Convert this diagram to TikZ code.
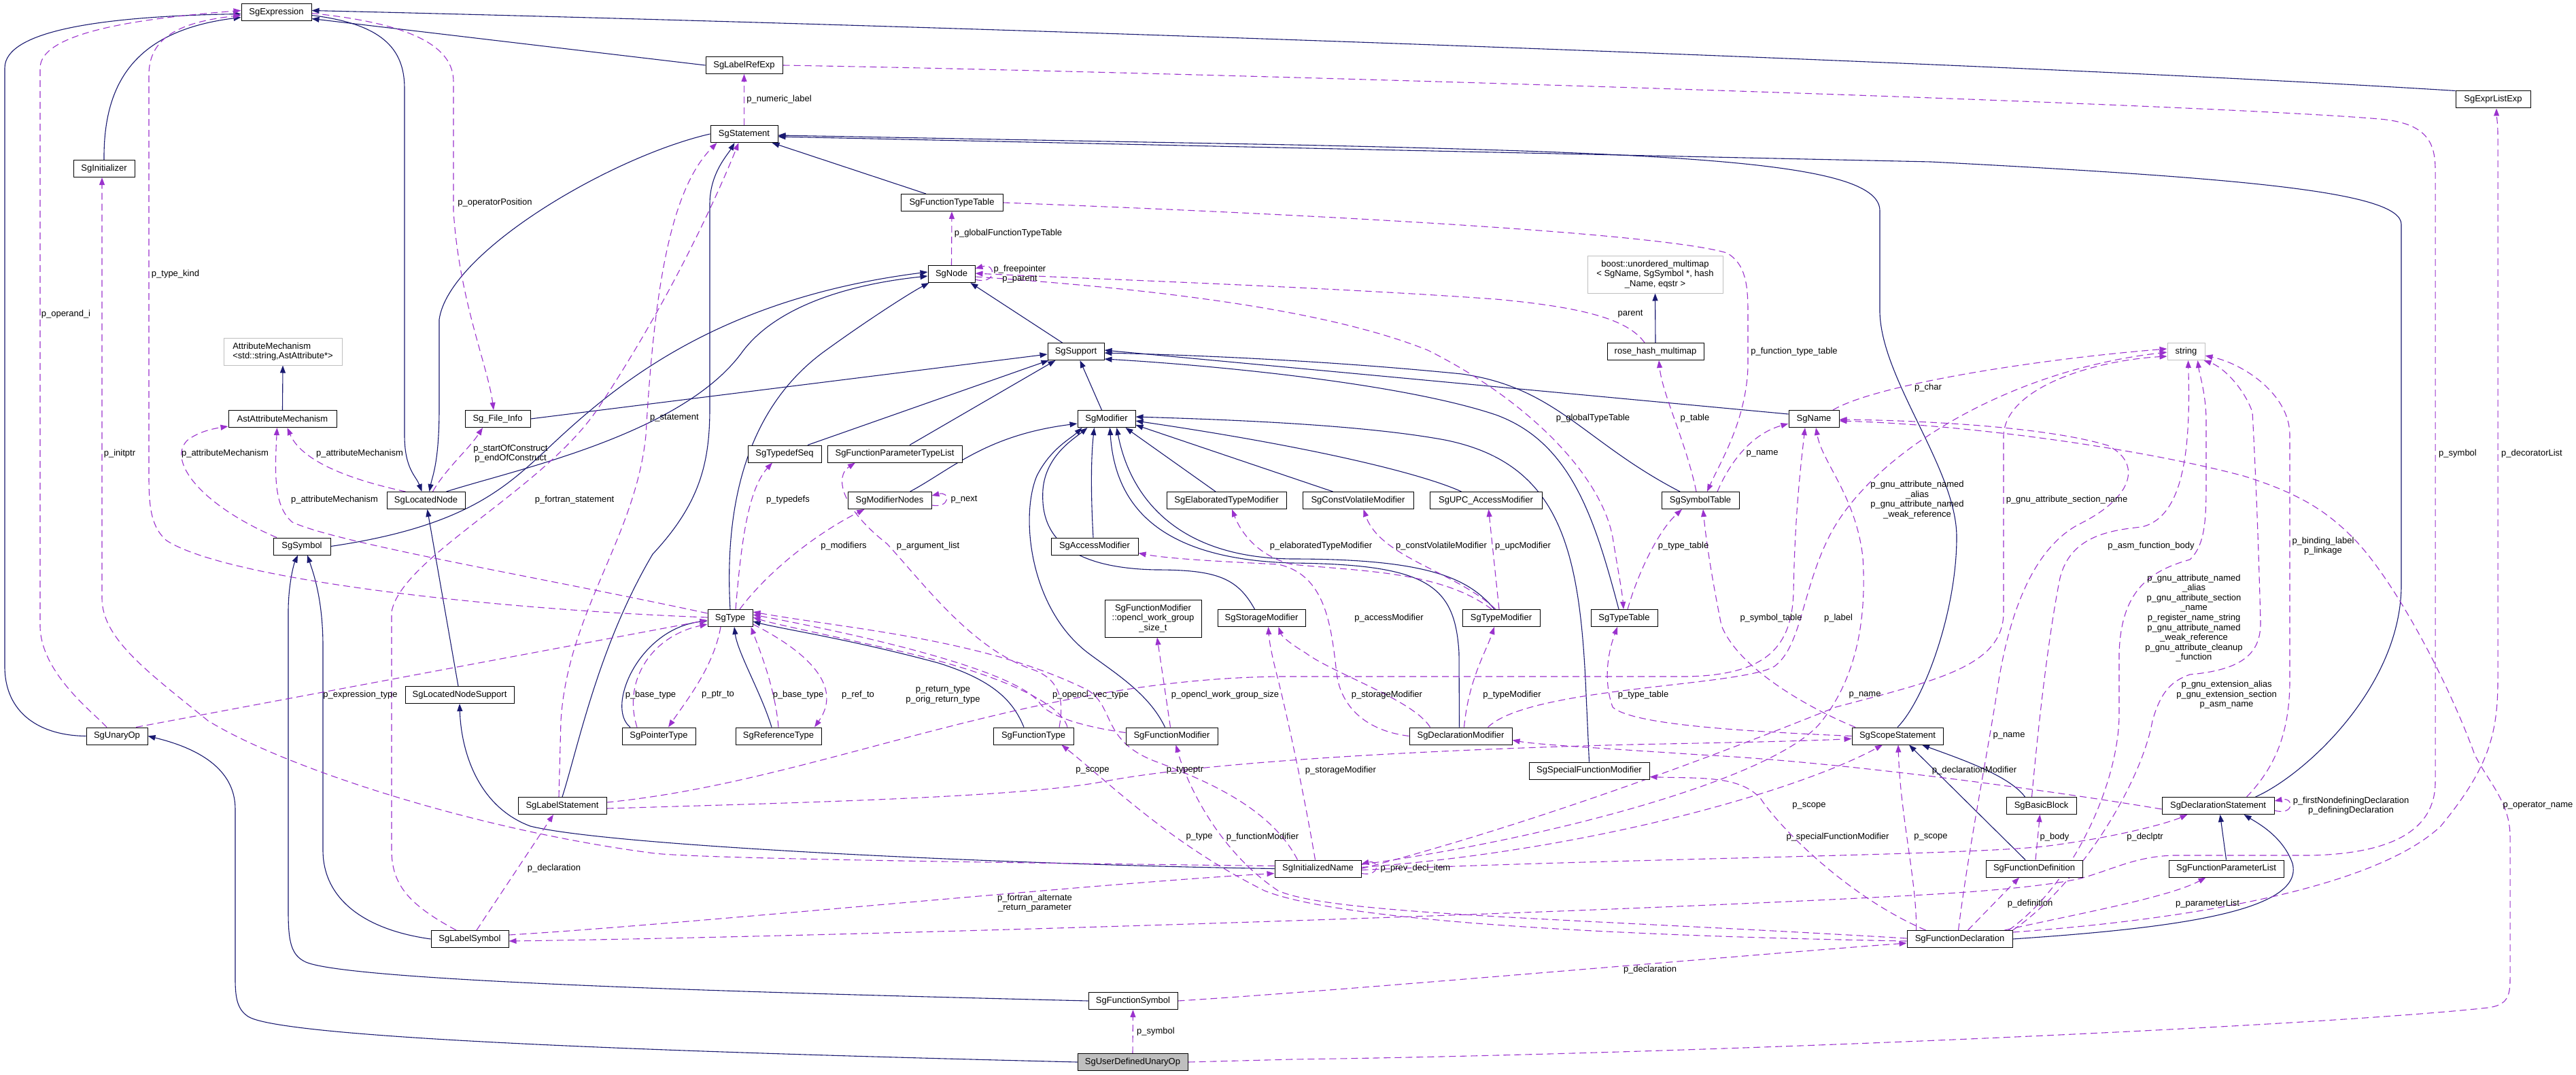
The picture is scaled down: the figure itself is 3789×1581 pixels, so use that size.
\documentclass[tikz,border=0pt]{standalone}
\usepackage{fontspec}
\setmainfont{Liberation Sans}
\usetikzlibrary{arrows.meta}
\definecolor{navy}{HTML}{191970}
\definecolor{orchid}{HTML}{9A32CD}
\definecolor{boxgray}{HTML}{BFBFBF}
\pgfdeclarelayer{bg}
\pgfsetlayers{bg,main}
\tikzset{
  cls/.style={draw=black, fill=white, line width=1pt, minimum height=25pt, inner xsep=2pt, inner ysep=2pt, align=center},
  ext/.style={cls, draw=boxgray},
  lbl/.style={inner sep=0pt, align=center},
  inh/.style={draw=navy, line width=1.1pt, -{Triangle[length=11pt,width=8pt]}},
  dep/.style={draw=orchid, line width=1.1pt, dash pattern=on 10pt off 6pt, -{Triangle[length=11pt,width=8pt]}},
}
\begin{document}
\begin{tikzpicture}[x=1pt, y=-1pt, every node/.style={font=\fontsize{13}{14.6}\selectfont}]
  \useasboundingbox (0,0) rectangle (3789,1581);

  % Classes
  \node[cls, minimum width=103pt] (expr) at (406.5,18.5) {SgExpression};
  \node[cls, minimum width=90pt] (init) at (153,248) {SgInitializer};
  \node[ext, minimum width=174pt, minimum height=40pt, align=left] (am) at (416,517) {AttributeMechanism\\<std::string,AstAttribute*>};
  \node[cls, minimum width=159pt] (aam) at (415.5,616) {AstAttributeMechanism};
  \node[cls, minimum width=96pt] (finfo) at (732,616) {Sg\_File\_Info};
  \node[cls, minimum width=115pt] (lnode) at (626.5,736) {SgLocatedNode};
  \node[cls, minimum width=84pt] (sym) at (444,803.5) {SgSymbol};
  \node[cls, minimum width=160pt] (lns) at (676,1022) {SgLocatedNodeSupport};
  \node[cls, minimum width=90pt] (unop) at (172,1082.5) {SgUnaryOp};
  \node[cls, minimum width=130pt] (lblst) at (827,1185) {SgLabelStatement};
  \node[cls, minimum width=114pt] (lblsym) at (691,1381) {SgLabelSymbol};
  \node[cls, minimum width=108pt] (ptrty) at (969,1082.5) {SgPointerType};
  \node[cls, minimum width=126pt] (refty) at (1145,1082.5) {SgReferenceType};
  \node[cls, minimum width=118pt] (fnty) at (1520,1082.5) {SgFunctionType};
  \node[cls, minimum width=135pt] (fnmod) at (1723.5,1082.5) {SgFunctionModifier};
  \node[cls, minimum width=127pt] (iname) at (1938.5,1277.5) {SgInitializedName};
  \node[cls, minimum width=131pt] (fsym) at (1666.5,1472) {SgFunctionSymbol};
  \node[cls, fill=boxgray, minimum width=162pt] (udop) at (1666,1562) {SgUserDefinedUnaryOp};
  \node[cls, minimum width=113pt] (lrexp) at (1094.5,96) {SgLabelRefExp};
  \node[cls, minimum width=99pt] (stmt) at (1094.5,197) {SgStatement};
  \node[cls, minimum width=150pt] (ftt) at (1400,298) {SgFunctionTypeTable};
  \node[cls, minimum width=69pt] (sgnode) at (1399.5,403) {SgNode};
  \node[cls, minimum width=83pt] (supp) at (1582.5,517) {SgSupport};
  \node[ext, minimum width=199pt, minimum height=55pt] (boostmm) at (2434.5,403.5) {boost::unordered\_multimap\\< SgName, SgSymbol *, hash\\\_Name, eqstr >};
  \node[cls, minimum width=142pt] (rhm) at (2435,517) {rose\_hash\_multimap};
  \node[cls, minimum width=110pt] (exlist) at (3667,146.5) {SgExprListExp};
  \node[ext, minimum width=55pt] (strg) at (3215.5,517) {string};
  \node[cls, minimum width=108pt] (tdseq) at (1154,667.5) {SgTypedefSeq};
  \node[cls, minimum width=198pt] (fptl) at (1316,667.5) {SgFunctionParameterTypeList};
  \node[cls, minimum width=85pt] (modif) at (1627.5,616) {SgModifier};
  \node[cls, minimum width=123pt] (modn) at (1308.5,736) {SgModifierNodes};
  \node[cls, minimum width=176pt] (elab) at (1804,736) {SgElaboratedTypeModifier};
  \node[cls, minimum width=128pt] (accm) at (1610,803.5) {SgAccessModifier};
  \node[cls, minimum width=66pt] (sgtype) at (1074,909) {SgType};
  \node[cls, minimum width=142pt, minimum height=55pt] (ocl) at (1696,909.5) {SgFunctionModifier\\::opencl\_work\_group\\\_size\_t};
  \node[cls, minimum width=129pt] (storm) at (1855.5,909) {SgStorageModifier};
  \node[cls, minimum width=163pt] (cvm) at (1997.5,736) {SgConstVolatileModifier};
  \node[cls, minimum width=165pt] (upcm) at (2185.5,736) {SgUPC\_AccessModifier};
  \node[cls, minimum width=114pt] (symtab) at (2501,736) {SgSymbolTable};
  \node[cls, minimum width=74pt] (sgname) at (2668,616) {SgName};
  \node[cls, minimum width=114pt] (typem) at (2208,909) {SgTypeModifier};
  \node[cls, minimum width=98pt] (typetab) at (2389,909) {SgTypeTable};
  \node[cls, minimum width=151pt] (declm) at (2148.5,1082.5) {SgDeclarationModifier};
  \node[cls, minimum width=134pt] (scopest) at (2791,1082.5) {SgScopeStatement};
  \node[cls, minimum width=177pt] (spfm) at (2337.5,1133.5) {SgSpecialFunctionModifier};
  \node[cls, minimum width=155pt] (fdecl) at (2882.5,1381) {SgFunctionDeclaration};
  \node[cls, minimum width=103pt] (bblock) at (3002.5,1185) {SgBasicBlock};
  \node[cls, minimum width=142pt] (fdef) at (2992,1277.5) {SgFunctionDefinition};
  \node[cls, minimum width=165pt] (declst) at (3262.5,1185) {SgDeclarationStatement};
  \node[cls, minimum width=169pt] (fplist) at (3274.5,1277.5) {SgFunctionParameterList};

  % Member labels
  \node[lbl] (lopnd) at (97,462) {p\_operand\_i};
  \node[lbl] (ltkind) at (258,403) {p\_type\_kind};
  \node[lbl] (loppos) at (728,298) {p\_operatorPosition};
  \node[lbl] (linit) at (176,667) {p\_initptr};
  \node[lbl] (lam1) at (331,667) {p\_attributeMechanism};
  \node[lbl] (lam2) at (529,667) {p\_attributeMechanism};
  \node[lbl] (lam3) at (492,735) {p\_attributeMechanism};
  \node[lbl] (lsoc) at (751,667) {p\_startOfConstruct\\p\_endOfConstruct};
  \node[lbl] (lfstmt) at (845,735) {p\_fortran\_statement};
  \node[lbl] (letype) at (530,1022) {p\_expression\_type};
  \node[lbl] (lstmt) at (992,615) {p\_statement};
  \node[lbl] (lnum) at (1146,146) {p\_numeric\_label};
  \node[lbl] (lgftt) at (1483,343) {p\_globalFunctionTypeTable};
  \node[lbl] (lfree) at (1500,403) {p\_freepointer\\p\_parent};
  \node[lbl] (lpar) at (2398,462) {parent};
  \node[lbl] (lfttab) at (2639,517) {p\_function\_type\_table};
  \node[lbl] (lgtt) at (2343,615) {p\_globalTypeTable};
  \node[lbl] (ltab) at (2493,615) {p\_table};
  \node[lbl] (lname1) at (2592,667) {p\_name};
  \node[lbl] (lchar) at (2836,570) {p\_char};
  \node[lbl] (lgnu4) at (2820,735) {p\_gnu\_attribute\_named\\\_alias\\p\_gnu\_attribute\_named\\\_weak\_reference};
  \node[lbl] (lsec) at (3040,735) {p\_gnu\_attribute\_section\_name};
  \node[lbl] (lasm) at (3164,803) {p\_asm\_function\_body};
  \node[lbl] (lbind) at (3417,803) {p\_binding\_label\\p\_linkage};
  \node[lbl] (lgnu9) at (3227,909) {p\_gnu\_attribute\_named\\\_alias\\p\_gnu\_attribute\_section\\\_name\\p\_register\_name\_string\\p\_gnu\_attribute\_named\\\_weak\_reference\\p\_gnu\_attribute\_cleanup\\\_function};
  \node[lbl] (lgext) at (3275,1022) {p\_gnu\_extension\_alias\\p\_gnu\_extension\_section\\p\_asm\_name};
  \node[lbl] (lsym2) at (3615,667) {p\_symbol};
  \node[lbl] (ldeco) at (3724,667) {p\_decoratorList};
  \node[lbl] (ltdef) at (1159,735) {p\_typedefs};
  \node[lbl] (lnext) at (1418,735) {p\_next};
  \node[lbl] (lmods) at (1241,803) {p\_modifiers};
  \node[lbl] (largs) at (1365,803) {p\_argument\_list};
  \node[lbl] (lbase1) at (957,1022) {p\_base\_type};
  \node[lbl] (lptr) at (1056,1022) {p\_ptr\_to};
  \node[lbl] (lbase2) at (1174,1022) {p\_base\_type};
  \node[lbl] (lref) at (1262,1022) {p\_ref\_to};
  \node[lbl] (lret) at (1387,1022) {p\_return\_type\\p\_orig\_return\_type};
  \node[lbl] (lvec) at (1604,1022) {p\_opencl\_vec\_type};
  \node[lbl] (lwgs) at (1802,1022) {p\_opencl\_work\_group\_size};
  \node[lbl] (lelab) at (1943,803) {p\_elaboratedTypeModifier};
  \node[lbl] (lcv) at (2120,803) {p\_constVolatileModifier};
  \node[lbl] (lupc) at (2240,803) {p\_upcModifier};
  \node[lbl] (ltt1) at (2476,803) {p\_type\_table};
  \node[lbl] (lacc) at (2043,909) {p\_accessModifier};
  \node[lbl] (lsymt) at (2605,909) {p\_symbol\_table};
  \node[lbl] (llabel) at (2704,909) {p\_label};
  \node[lbl] (lstor1) at (2040,1022) {p\_storageModifier};
  \node[lbl] (ltmod) at (2224,1022) {p\_typeModifier};
  \node[lbl] (ltt2) at (2417,1022) {p\_type\_table};
  \node[lbl] (lname2) at (2743,1022) {p\_name};
  \node[lbl] (lscope1) at (1607,1133) {p\_scope};
  \node[lbl] (ltptr) at (1743,1133) {p\_typeptr};
  \node[lbl] (ltype) at (1764,1231) {p\_type};
  \node[lbl] (lfmod) at (1857,1231) {p\_functionModifier};
  \node[lbl] (lfort) at (1522,1328) {p\_fortran\_alternate\\\_return\_parameter};
  \node[lbl] (lsym1) at (1700,1517) {p\_symbol};
  \node[lbl] (lstor2) at (1972,1133) {p\_storageModifier};
  \node[lbl] (lscope2) at (2661,1185) {p\_scope};
  \node[lbl] (lspf) at (2703,1231) {p\_specialFunctionModifier};
  \node[lbl] (lscope3) at (2840,1231) {p\_scope};
  \node[lbl] (lprev) at (2082,1277) {p\_prev\_decl\_item};
  \node[lbl] (ldecl2) at (2427,1426) {p\_declaration};
  \node[lbl] (ldecl1) at (815,1277) {p\_declaration};
  \node[lbl] (lname3) at (2955,1082) {p\_name};
  \node[lbl] (ldmod) at (2904,1133) {p\_declarationModifier};
  \node[lbl] (lbody) at (3022,1231) {p\_body};
  \node[lbl] (ldptr) at (3155,1231) {p\_declptr};
  \node[lbl] (lfnd) at (3458,1185) {p\_firstNondefiningDeclaration\\p\_definingDeclaration};
  \node[lbl] (ldefn) at (2986,1329) {p\_definition};
  \node[lbl] (lplist) at (3247,1329) {p\_parameterList};
  \node[lbl] (lopn) at (3733,1185) {p\_operator\_name};

  \begin{pgfonlayer}{bg}
  % Inheritance
  \draw[inh] (udop.west) .. controls (1100,1550) and (420,1530) .. (365,1495) .. controls (350,1485) and (346,1470) .. (346,1440) -- (346,1190) .. controls (346,1130) and (290,1100) .. (unop.east);
  \draw[inh] (unop.west) .. controls (60,1082) and (7,1050) .. (7,980) -- (7,100) .. controls (7,45) and (150,24) .. ([yshift=-2pt]expr.west);
  \draw[inh] (init.north) .. controls (152,120) and (200,45) .. ([yshift=-7pt]expr.west);
  \draw[inh] (lrexp.west) -- ([yshift=-9pt]expr.east);
  \draw[inh] (exlist.north west) .. controls (3000,95) and (1500,40) .. ([yshift=3pt]expr.east);
  \draw[inh] ([yshift=-4pt]expr.east) .. controls (560,35) and (595,70) .. (595,130) -- (595,640) .. controls (595,690) and (612,700) .. ([xshift=-6pt]lnode.north);
  \draw[inh] (stmt.west) .. controls (900,230) and (660,370) .. (646,470) -- (646,600) .. controls (646,680) and (636,700) .. ([xshift=5pt]lnode.north);
  \draw[inh] ([xshift=30pt]lnode.north) .. controls (760,690) and (1000,640) .. (1090,520) .. controls (1140,450) and (1250,418) .. ([yshift=-3pt]sgnode.west);
  \draw[inh] (sym.east) .. controls (680,775) and (740,720) .. (800,665) .. controls (900,570) and (1050,440) .. ([yshift=3pt]sgnode.west);
  \draw[inh] (sgtype.north) .. controls (1064,720) and (1110,590) .. (1215,515) .. controls (1280,468) and (1340,430) .. ([xshift=2pt]sgnode.south west);
  \draw[inh] ([xshift=-20pt]supp.north) -- ([xshift=28pt]sgnode.south);
  \draw[inh] ([xshift=-38pt]ftt.north) -- ([xshift=41pt]stmt.south);
  \draw[inh] (scopest.north) .. controls (2830,1030) and (2878,900) .. (2878,790) .. controls (2878,690) and (2768,560) .. (2765,460) -- (2765,310) .. controls (2765,240) and (2500,226) .. (1900,213) -- ([yshift=-2pt]stmt.east);
  \draw[inh] ([xshift=55pt]declst.north) .. controls (3390,1140) and (3532,1010) .. (3532,860) -- (3532,330) .. controls (3532,282) and (3300,262) .. (2840,238) -- ([yshift=-4pt]stmt.east);
  \draw[inh] (lblst.north) .. controls (850,1100) and (880,950) .. (960,815) .. controls (1030,740) and (1044,680) .. (1044,600) -- (1044,300) .. controls (1044,255) and (1070,228) .. ([xshift=-14pt]stmt.south);
  \draw[inh] (finfo.east) -- ([yshift=-4pt]supp.west);
  \draw[inh] ([xshift=34pt]tdseq.north) -- ([xshift=2pt]supp.south west);
  \draw[inh] ([xshift=22pt]fptl.north) -- ([xshift=12pt]supp.south west);
  \draw[inh] ([xshift=-7pt]modif.north) -- ([xshift=6pt]supp.south);
  \draw[inh] ([yshift=7pt]sgname.west) -- ([yshift=2pt]supp.east);
  \draw[inh] ([xshift=-30pt]symtab.north) .. controls (2330,650) and (2290,570) .. (2150,550) .. controls (1950,530) and (1750,522) .. ([yshift=-2pt]supp.east);
  \draw[inh] ([xshift=-8pt]typetab.north) .. controls (2345,760) and (2310,650) .. (2200,610) .. controls (2050,560) and (1750,535) .. ([yshift=2pt]supp.south east);
  \draw[inh] ([xshift=30pt]modn.north) .. controls (1400,690) and (1450,640) .. ([yshift=-7pt]modif.west);
  \draw[inh] ([xshift=-2pt]accm.north) .. controls (1604,720) and (1605,670) .. ([xshift=-18pt]modif.south);
  \draw[inh] ([xshift=-16pt]elab.north) -- ([xshift=28pt]modif.south);
  \draw[inh] ([xshift=-37pt]cvm.north) -- ([yshift=-9pt]modif.east);
  \draw[inh] ([xshift=-36pt]upcm.north) .. controls (2100,700) and (1950,660) .. ([yshift=-3pt]modif.east);
  \draw[inh] (spfm.north) -- (2332,1000) .. controls (2322,800) and (2290,680) .. (2125,647) .. controls (2000,624) and (1800,617) .. ([yshift=3pt]modif.east);
  \draw[inh] ([xshift=-10pt]typem.north) .. controls (2160,850) and (2100,822) .. (1900,822) .. controls (1720,820) and (1660,720) .. ([xshift=15pt]modif.south);
  \draw[inh] ([xshift=-2pt]declm.north) -- (2146,960) .. controls (2140,860) and (2100,830) .. (1900,828) .. controls (1700,822) and (1640,740) .. ([xshift=5pt]modif.south);
  \draw[inh] ([xshift=-10pt]storm.north) .. controls (1820,850) and (1790,838) .. (1700,838) .. controls (1560,835) and (1530,780) .. (1534,720) .. controls (1538,670) and (1580,645) .. ([xshift=-28pt]modif.south);
  \draw[inh] ([xshift=-10pt]fnmod.north) .. controls (1690,1020) and (1640,990) .. (1600,960) .. controls (1515,895) and (1500,760) .. (1525,700) .. controls (1545,660) and (1575,645) .. ([xshift=-36pt]modif.south);
  \draw[inh] ([xshift=-2pt]lns.north) -- ([xshift=2pt]lnode.south);
  \draw[inh] (iname.west) .. controls (1500,1272) and (900,1245) .. (780,1215) .. controls (700,1185) and (678,1100) .. (lns.south);
  \draw[inh] (aam.north) -- (am.south);
  \draw[inh] (rhm.north) -- (boostmm.south);
  \draw[inh] (lblsym.west) .. controls (540,1368) and (475,1325) .. (475,1250) -- (475,950) .. controls (475,880) and (460,840) .. ([xshift=8pt]sym.south);
  \draw[inh] (fsym.west) .. controls (1200,1462) and (520,1445) .. (450,1415) .. controls (428,1405) and (424,1385) .. (424,1340) -- (424,900) .. controls (424,860) and (432,830) .. ([xshift=-6pt]sym.south);
  \draw[inh] ([xshift=-42pt]ptrty.north) .. controls (890,1040) and (940,925) .. ([yshift=-4pt]sgtype.west);
  \draw[inh] ([xshift=-10pt]refty.north) .. controls (1120,1020) and (1085,960) .. ([xshift=6pt]sgtype.south);
  \draw[inh] ([xshift=-14pt]fnty.north) .. controls (1490,1030) and (1460,1000) .. (1380,975) .. controls (1250,940) and (1150,925) .. ([yshift=-5pt]sgtype.east);
  \draw[inh] ([xshift=-24pt]bblock.north) .. controls (2955,1140) and (2880,1115) .. ([xshift=36pt]scopest.south);
  \draw[inh] ([xshift=-13pt]fdef.north) -- ([xshift=17pt]scopest.south);
  \draw[inh] (fdecl.east) .. controls (3200,1365) and (3390,1340) .. (3372,1270) .. controls (3358,1230) and (3320,1210) .. ([xshift=38pt]declst.south);
  \draw[inh] (fplist.north) -- ([xshift=3pt]declst.south);

  % Members
  \draw[dep] ([xshift=-15pt]unop.north) .. controls (140,1050) and (59,990) .. (59,920) -- (59,100) .. controls (59,45) and (220,26) .. ([yshift=3pt]expr.west);
  \draw[dep] ([yshift=1pt]sgtype.west) .. controls (700,895) and (330,850) .. (245,795) .. controls (222,775) and (219,745) .. (219,700) -- (219,110) .. controls (219,52) and (270,32) .. ([yshift=-4pt]expr.west);
  \draw[dep] ([yshift=4pt]iname.west) .. controls (1400,1268) and (1000,1262) .. (955,1254) .. controls (700,1220) and (420,1130) .. (306,1060) .. controls (220,990) and (150,940) .. (150,880) -- ([xshift=-3pt]init.south);
  \draw[dep] ([yshift=-1pt]expr.east) .. controls (610,35) and (667,70) .. (667,120) -- (667,310) .. controls (675,440) and (718,540) .. ([xshift=-6pt]finfo.north);
  \draw[dep] ([xshift=10pt]lnode.north) .. controls (655,690) and (690,660) .. ([xshift=-22pt]finfo.south);
  \draw[dep] ([xshift=-37pt]sym.north) .. controls (300,745) and (245,680) .. (275,648) .. controls (290,636) and (310,631) .. ([yshift=2pt]aam.south west);
  \draw[dep] ([xshift=-30pt]lnode.north) .. controls (490,700) and (440,670) .. ([xshift=7pt]aam.south);
  \draw[dep] ([yshift=7pt]sgtype.west) .. controls (800,850) and (500,800) .. (430,768) .. controls (403,745) and (404,700) .. ([xshift=-8pt]aam.south);
  \draw[dep] ([xshift=28pt]unop.north) -- ([yshift=-3pt]sgtype.west);
  \draw[dep] ([xshift=-5pt]lblst.north) -- (825,1060) .. controls (835,900) and (935,790) .. (950,640) .. controls (962,430) and (985,280) .. ([xshift=-40pt]stmt.south);
  \draw[dep] ([xshift=-20pt]lblsym.north) .. controls (600,1330) and (576,1300) .. (576,1250) -- (576,900) .. controls (590,820) and (800,720) .. (880,600) .. controls (980,450) and (1050,300) .. ([xshift=-8pt]stmt.south);
  \draw[dep] (stmt.north) -- (lrexp.south);
  \draw[dep] (sgnode.north) -- (ftt.south);
  \draw[dep] ([yshift=-8pt]sgnode.east) .. controls (1466,420) and (1466,386) .. ([yshift=8pt]sgnode.east);
  \draw[dep] ([xshift=-16pt]rhm.north) .. controls (2395,470) and (2330,452) .. (2200,440) .. controls (1950,422) and (1600,410) .. ([yshift=1pt]sgnode.east);
  \draw[dep] ([yshift=-4pt]sgnode.east) .. controls (1700,425) and (1950,455) .. (2100,515) .. controls (2250,590) and (2355,700) .. (2372,790) .. controls (2380,840) and (2386,870) .. ([xshift=-1pt]typetab.north);
  \draw[dep] (ftt.east) .. controls (2000,318) and (2450,345) .. (2540,372) .. controls (2568,388) and (2571,420) .. (2571,460) -- (2571,540) .. controls (2568,620) and (2530,680) .. ([xshift=10pt]symtab.north);
  \draw[dep] ([xshift=-6pt]symtab.north) .. controls (2480,650) and (2445,580) .. ([xshift=5pt]rhm.south);
  \draw[dep] ([xshift=25pt]symtab.north) .. controls (2540,690) and (2570,640) .. ([yshift=-7pt]sgname.west);
  \draw[dep] ([xshift=5pt]typetab.north) .. controls (2410,840) and (2440,780) .. ([xshift=-27pt]symtab.south);
  \draw[dep] (scopest.west) .. controls (2550,1075) and (2400,1065) .. (2372,1040) .. controls (2358,1000) and (2365,960) .. ([xshift=-10pt]typetab.south);
  \draw[dep] ([xshift=-62pt]scopest.north) .. controls (2680,1050) and (2560,990) .. (2532,920) .. controls (2518,850) and (2510,800) .. ([xshift=4pt]symtab.south);
  \draw[dep] ([yshift=5pt]lblst.east) .. controls (1200,1150) and (1500,1000) .. (1880,995) -- (2480,995) .. controls (2600,993) and (2636,950) .. (2638,870) .. controls (2640,760) and (2648,690) .. ([xshift=-13pt]sgname.south);
  \draw[dep] ([yshift=6pt]iname.east) .. controls (2300,1230) and (2620,1140) .. (2680,1060) .. controls (2735,990) and (2745,900) .. (2740,820) .. controls (2730,730) and (2680,680) .. ([xshift=3pt]sgname.south);
  \draw[dep] ([xshift=28pt]sgname.north) .. controls (2760,565) and (3000,528) .. ([yshift=4pt]strg.west);
  \draw[dep] ([xshift=40pt]declm.north) .. controls (2250,1010) and (2560,1010) .. (2610,980) .. controls (2650,950) and (2650,870) .. (2690,790) .. controls (2750,670) and (2950,545) .. ([yshift=-1pt]strg.west);
  \draw[dep] (iname.east) .. controls (2300,1200) and (2600,1080) .. (2700,1040) .. controls (2850,1000) and (2947,980) .. (2947,900) -- (2947,640) .. controls (2950,570) and (3080,530) .. ([yshift=-7pt]strg.west);
  \draw[dep] ([xshift=-14pt]bblock.north) .. controls (2995,1100) and (3010,950) .. (3030,850) .. controls (3045,790) and (3100,780) .. (3150,775) .. controls (3215,760) and (3222,650) .. ([xshift=3pt]strg.south);
  \draw[dep] ([xshift=-6pt]fdecl.north east) .. controls (3050,1300) and (3117,1150) .. (3117,1050) -- (3117,960) .. controls (3120,870) and (3160,840) .. (3221,823) .. controls (3245,800) and (3245,760) .. (3245,700) -- (3245,620) .. controls (3245,580) and (3235,550) .. ([xshift=17pt]strg.south);
  \draw[dep] (fdecl.north east) .. controls (3060,1300) and (3150,1150) .. (3166,1060) .. controls (3180,1010) and (3200,1000) .. (3221,992) .. controls (3300,985) and (3325,960) .. (3325,916) .. controls (3322,800) and (3318,700) .. (3313,606) .. controls (3300,570) and (3270,540) .. ([xshift=-2pt]strg.south east);
  \draw[dep] ([xshift=42pt]declst.north) .. controls (3345,1130) and (3368,1080) .. (3368,1000) -- (3368,640) .. controls (3368,580) and (3300,535) .. ([yshift=-6pt]strg.east);
  \draw[dep] (lrexp.east) .. controls (1700,105) and (3200,150) .. (3500,175) .. controls (3570,181) and (3582,210) .. (3582,250) -- (3582,1150) .. controls (3582,1220) and (3520,1255) .. (3400,1258) -- (3196,1258) .. controls (3140,1260) and (3110,1278) .. (3060,1292) .. controls (3000,1305) and (2900,1312) .. (2829,1316) .. controls (2300,1345) and (1200,1378) .. ([yshift=-3pt]lblsym.east);
  \draw[dep] ([yshift=10pt]fdecl.east) .. controls (3250,1350) and (3500,1300) .. (3590,1215) .. controls (3660,1130) and (3674,1080) .. (3674,1000) -- (3674,200) .. controls (3674,180) and (3672,170) .. ([xshift=5pt]exlist.south);
  \draw[dep] (udop.east) -- (1900,1558) .. controls (2500,1550) and (3400,1510) .. (3660,1482) .. controls (3688,1478) and (3692,1465) .. (3692,1440) -- (3692,1230) .. controls (3692,1180) and (3660,1150) .. (3640,1110) .. controls (3600,1000) and (3520,850) .. (3460,790) .. controls (3420,750) and (3380,725) .. (3300,700) .. controls (3150,660) and (2900,625) .. ([yshift=-3pt]sgname.east);
  \draw[dep] (udop.north) -- (fsym.south);
  \draw[dep] ([xshift=8pt]sgtype.north) .. controls (1090,800) and (1100,720) .. ([xshift=-18pt]tdseq.south);
  \draw[dep] ([xshift=14pt]sgtype.north) .. controls (1130,840) and (1200,785) .. ([xshift=-37pt]modn.south);
  \draw[dep] ([yshift=-7pt]modn.east) .. controls (1398,748) and (1398,722) .. ([yshift=7pt]modn.east);
  \draw[dep] ([xshift=38pt]fnty.north) .. controls (1565,1030) and (1560,1000) .. (1520,985) .. controls (1430,955) and (1360,860) .. (1305,800) .. controls (1235,745) and (1228,700) .. ([xshift=-58pt]fptl.south);
  \draw[dep] ([xshift=-32pt]ptrty.north) .. controls (915,1000) and (960,935) .. ([yshift=-9pt]sgtype.west);
  \draw[dep] ([xshift=-14pt]sgtype.south) .. controls (1050,980) and (1010,1030) .. ([xshift=14pt]ptrty.north);
  \draw[dep] (refty.north) .. controls (1140,1010) and (1115,950) .. ([xshift=-3pt]sgtype.south east);
  \draw[dep] ([yshift=-9pt]sgtype.east) .. controls (1190,960) and (1240,1010) .. ([xshift=53pt]refty.north);
  \draw[dep] ([xshift=50pt]fnty.north) .. controls (1560,1030) and (1450,985) .. (1307,954) .. controls (1200,930) and (1140,918) .. ([yshift=1pt]sgtype.east);
  \draw[dep] ([yshift=5pt]fnmod.west) .. controls (1600,1070) and (1545,1055) .. (1530,1035) .. controls (1500,990) and (1300,940) .. ([yshift=5pt]sgtype.east);
  \draw[dep] ([xshift=-2pt]fnmod.north) -- ([xshift=6pt]ocl.south);
  \draw[dep] ([xshift=-14pt]typem.north) .. controls (2120,840) and (2000,840) .. (1900,830) .. controls (1840,815) and (1820,770) .. ([xshift=8pt]elab.south);
  \draw[dep] ([xshift=-8pt]typem.north) .. controls (2140,840) and (2030,820) .. ([xshift=8pt]cvm.south);
  \draw[dep] ([xshift=-3pt]typem.north) -- ([xshift=4pt]upcm.south);
  \draw[dep] (declm.west) .. controls (2010,1075) and (1972,1040) .. (1966,990) .. controls (1958,920) and (1950,845) .. (1880,830) .. controls (1800,826) and (1720,822) .. ([yshift=-10pt]accm.east);
  \draw[dep] ([xshift=-45pt]declm.north) .. controls (2080,1030) and (1960,990) .. (1920,960) .. controls (1895,945) and (1885,935) .. ([xshift=25pt]storm.south);
  \draw[dep] ([xshift=-4pt]iname.north) .. controls (1915,1150) and (1890,1040) .. (1880,1000) .. controls (1872,970) and (1867,945) .. ([xshift=10pt]storm.south);
  \draw[dep] ([xshift=5pt]declm.north) .. controls (2160,1000) and (2185,960) .. ([xshift=-10pt]typem.south);
  \draw[dep] ([yshift=-5pt]declst.west) .. controls (3000,1160) and (2700,1120) .. (2500,1110) .. controls (2350,1100) and (2260,1095) .. ([yshift=-6pt]declm.east);
  \draw[dep] ([yshift=2pt]iname.east) .. controls (2350,1250) and (2650,1160) .. ([xshift=-22pt]scopest.south);
  \draw[dep] ([yshift=-7pt]iname.east) .. controls (2030,1290) and (2030,1264) .. ([yshift=7pt]iname.east);
  \draw[dep] ([yshift=-2pt]iname.east) .. controls (2400,1262) and (2900,1258) .. (3013,1244) .. controls (3120,1230) and (3190,1210) .. ([xshift=-45pt]declst.south);
  \draw[dep] ([xshift=-2pt]fdecl.north) .. controls (2895,1250) and (2925,1100) .. (2940,1000) .. controls (2960,880) and (3000,800) .. (3060,770) .. controls (3140,730) and (3150,680) .. (3100,655) .. controls (3000,625) and (2800,618) .. ([yshift=-1pt]sgname.east);
  \draw[dep] ([xshift=-64pt]fdecl.north) .. controls (2820,1300) and (2795,1200) .. ([xshift=1pt]scopest.south);
  \draw[dep] ([xshift=-50pt]fdecl.north) .. controls (2720,1320) and (2620,1220) .. (2590,1175) .. controls (2560,1140) and (2500,1145) .. ([yshift=-9pt]spfm.east);
  \draw[dep] ([yshift=-3pt]fdecl.west) .. controls (2300,1375) and (1960,1350) .. (1860,1310) .. controls (1720,1240) and (1630,1150) .. ([xshift=-18pt]fnty.south east);
  \draw[dep] ([yshift=1pt]fdecl.west) .. controls (2300,1350) and (1960,1345) .. (1880,1310) .. controls (1790,1250) and (1745,1150) .. ([xshift=6pt]fnmod.south);
  \draw[dep] ([xshift=-30pt]iname.north) .. controls (1870,1190) and (1780,1150) .. (1700,1120) .. controls (1620,1090) and (1640,1040) .. (1600,1015) .. controls (1450,940) and (1250,925) .. ([yshift=9pt]sgtype.east);
  \draw[dep] ([yshift=-4pt]lblst.east) .. controls (1200,1180) and (1500,1172) .. (1620,1150) .. controls (1800,1115) and (2200,1100) .. (2400,1095) .. controls (2550,1092) and (2650,1090) .. ([yshift=-4pt]scopest.west);
  \draw[dep] ([yshift=6pt]lblsym.east) .. controls (1000,1360) and (1600,1300) .. ([yshift=-7pt]iname.west);
  \draw[dep] ([xshift=10pt]lblsym.north) -- ([xshift=-13pt]lblst.south);
  \draw[dep] (fsym.east) .. controls (2000,1455) and (2500,1410) .. ([yshift=-6pt]fdecl.west);
  \draw[dep] ([xshift=2pt]fdef.north) -- ([xshift=-2pt]bblock.south);
  \draw[dep] ([xshift=12pt]fdecl.north) -- ([xshift=-22pt]fdef.south);
  \draw[dep] ([xshift=-12pt]fdecl.north east) .. controls (3050,1345) and (3190,1320) .. ([xshift=-30pt]fplist.south);
  \draw[dep] ([yshift=-7pt]declst.east) .. controls (3375,1200) and (3375,1172) .. ([yshift=7pt]declst.east);
  \end{pgfonlayer}
\end{tikzpicture}
\end{document}
